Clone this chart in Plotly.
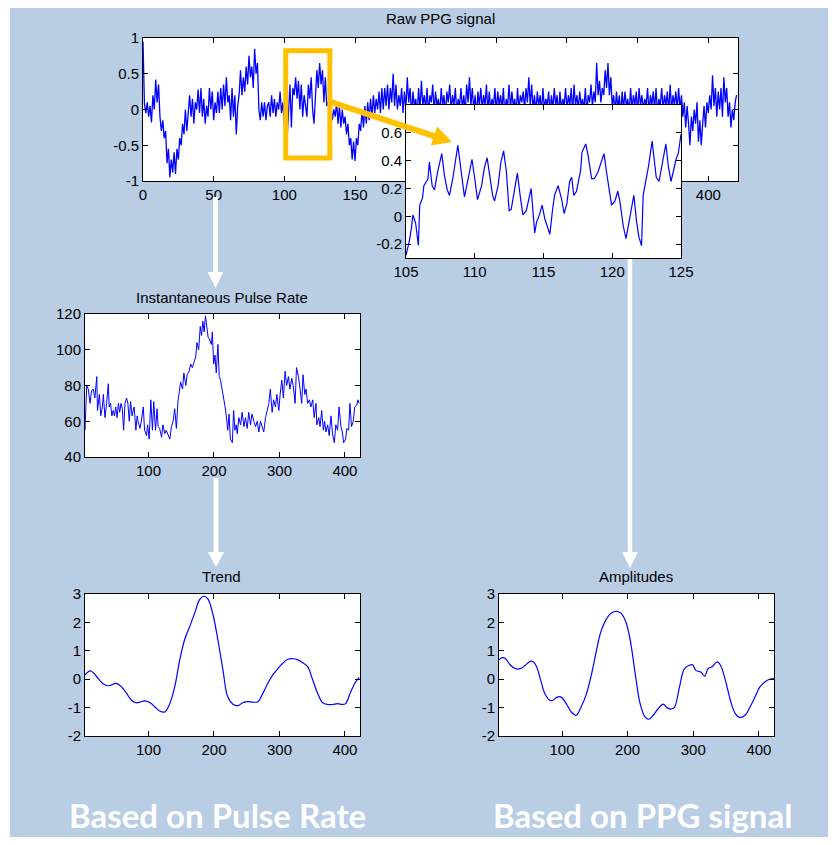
import plotly.graph_objects as go

# ---------------- data ----------------
ppg_raw = [
    0.95, 0.08, -0.05, 0.1, -0.1, 0.05, -0.18, 0.2, 0.0, 0.42,
    0.1, 0.35, -0.1, -0.3, -0.15, -0.4, -0.3, -0.75, -0.55, -0.95,
    -0.7, -0.88, -0.6, -0.9, -0.55, -0.7, -0.4, -0.5, -0.2, -0.35,
    0.0, -0.3, -0.05, 0.2, -0.1, 0.15, -0.2, 0.1, 0.0, 0.28,
    -0.05, 0.3, -0.1, 0.15, -0.2, 0.05, -0.1, 0.3, 0.0, 0.25,
    -0.15, 0.1, -0.05, 0.25, -0.05, 0.3, 0.0, 0.35, 0.05, 0.45,
    0.1, 0.2, -0.15, 0.3, -0.1, 0.2, -0.35, 0.05, 0.2, 0.55,
    0.2, 0.45, 0.25, 0.6, 0.35, 0.75, 0.45, 0.6, 0.3, 0.85,
    0.5, 0.65, 0.0, -0.15, 0.1, -0.1, 0.1, -0.15, 0.05, 0.1,
    -0.1, 0.2, -0.05, 0.15, -0.1, 0.1, 0.0, 0.25, -0.05, 0.1,
    -0.2, 0.1, -0.4, 0.0, 0.35, -0.25, 0.3, 0.2, 0.45, 0.15,
    0.4, 0.0, 0.35, -0.1, 0.2, 0.05, -0.1, 0.35, 0.15, 0.45,
    0.0, -0.2, 0.2, 0.55, 0.3, 0.65, 0.35, 0.55, 0.1, 0.45,
    0.05, 0.1, -0.1, 0.05, -0.15, 0.0, -0.1, 0.1, -0.2, 0.05,
    -0.25, 0.0, -0.2, -0.1, -0.35, -0.2, -0.5, -0.4, -0.7, -0.45,
    -0.72, -0.4, -0.5, -0.2, -0.3, 0.0, -0.25, 0.05, -0.2, 0.1,
    -0.15, 0.15, -0.1, 0.2, -0.05, 0.15, 0.0, 0.25, -0.05, 0.3,
    0.0, 0.3, 0.05, 0.35, 0.0, 0.3, 0.1, 0.5, 0.05, 0.35,
    0.0, 0.2, 0.05, 0.3, -0.05, 0.25, 0.0, 0.45, 0.1, 0.3,
    -0.1, 0.25, 0.05, 0.15, -0.1, 0.3, 0.0, 0.4, 0.05, 0.2,
    0.0, 0.3, -0.05, 0.2, 0.1, 0.35, -0.05, 0.25, 0.05, 0.15,
    -0.05, 0.3, 0.05, 0.2, -0.1, 0.25, 0.1, 0.35, 0.0, 0.2,
    0.05, 0.3, -0.05, 0.15, 0.05, 0.3, 0.0, 0.2, -0.05, 0.35,
    0.1, 0.45, 0.05, 0.3, 0.0, 0.2, -0.1, 0.25, 0.05, 0.3,
    0.0, 0.2, 0.05, 0.35, -0.05, 0.25, 0.0, 0.15, 0.05, 0.3,
    -0.05, 0.25, 0.05, 0.2, 0.0, 0.3, -0.1, 0.15, 0.05, 0.35,
    0.0, 0.25, 0.05, 0.15, -0.05, 0.3, 0.0, 0.2, 0.1, 0.25,
    0.0, 0.3, 0.1, 0.45, 0.05, 0.35, 0.0, 0.2, -0.05, 0.25,
    0.05, 0.2, -0.05, 0.3, 0.0, 0.15, 0.05, 0.25, -0.05, 0.2,
    0.0, 0.3, 0.05, 0.2, -0.1, 0.25, 0.0, 0.15, 0.05, 0.3,
    0.0, 0.2, 0.05, 0.3, -0.05, 0.35, 0.05, 0.2, 0.0, 0.25,
    0.05, 0.15, 0.0, 0.3, -0.05, 0.2, 0.1, 0.35, 0.05, 0.25,
    0.1, 0.65, 0.2, 0.4, 0.1, 0.3, 0.2, 0.55, 0.3, 0.65,
    0.2, 0.45, 0.05, 0.2, -0.05, 0.25, 0.0, 0.2, -0.1, 0.25,
    0.0, 0.25, 0.05, 0.15, -0.05, 0.3, 0.0, 0.2, 0.05, 0.25,
    -0.05, 0.3, 0.05, 0.2, 0.0, 0.15, 0.05, 0.3, -0.05, 0.2,
    0.05, 0.25, 0.0, 0.3, -0.05, 0.15, 0.05, 0.3, 0.0, 0.2,
    0.05, 0.25, -0.05, 0.35, 0.0, 0.2, 0.05, 0.25, 0.0, 0.3,
    0.0, 0.2, -0.1, 0.1, -0.25, 0.05, -0.2, -0.5, -0.1, -0.3,
    0.0, -0.2, 0.1, -0.45, -0.15, -0.5, -0.2, 0.05, -0.25, 0.1,
    -0.05, 0.2, 0.0, 0.48, 0.05, 0.3, -0.1, 0.25, 0.0, 0.3,
    -0.1, 0.45, 0.1, 0.3, -0.1, 0.1, -0.25, 0.0, -0.15, 0.1, 0.2,
]
ppg_t = list(range(len(ppg_raw)))

inset_t = [105.0, 105.24, 105.4, 105.5, 105.7, 105.85, 105.9, 106.0, 106.2, 106.3,
           106.6, 106.7, 106.9, 107.07, 107.3, 107.6, 107.8, 108.0, 108.16, 108.4,
           108.6, 108.77, 108.9, 109.1, 109.25, 109.5, 109.8, 110.0, 110.2, 110.5,
           110.7, 110.9, 111.1, 111.3, 111.44, 111.7, 111.9, 112.1, 112.3, 112.5,
           112.65, 112.9, 113.1, 113.3, 113.5, 113.75, 114.0, 114.1, 114.2, 114.36,
           114.5, 114.7, 114.9, 115.1, 115.3, 115.46, 115.65, 115.8, 116.06, 116.3,
           116.5, 116.7, 116.9, 117.05, 117.2, 117.4, 117.7, 117.8, 118.07, 118.24,
           118.5, 118.7, 118.97, 119.2, 119.4, 119.58, 119.8, 119.95, 120.2, 120.4,
           120.55, 120.8, 121.0, 121.15, 121.4, 121.57, 121.77, 121.94, 122.13, 122.25,
           122.45, 122.64, 122.9, 123.03, 123.2, 123.4, 123.66, 123.9, 124.08, 124.27,
           124.44, 124.64, 124.8, 125.0]
inset_v = [-0.28, -0.18, -0.08, 0.01, -0.05, -0.15, -0.21, 0.08, 0.13, 0.22,
           0.27, 0.39, 0.22, 0.19, 0.32, 0.45, 0.29, 0.19, 0.15, 0.27,
           0.39, 0.51, 0.41, 0.24, 0.14, 0.26, 0.41, 0.27, 0.12, 0.22,
           0.35, 0.42, 0.27, 0.15, 0.11, 0.22, 0.39, 0.47, 0.32, 0.04,
           0.05, 0.19, 0.31, 0.15, 0.01, 0.04, 0.15, 0.2, 0.08, -0.12,
           -0.04, 0.01, 0.08, -0.02, -0.08, -0.13, 0.04, 0.15, 0.22, 0.13,
           0.02, 0.09, 0.25, 0.28, 0.15, 0.18, 0.33, 0.46, 0.52, 0.44,
           0.27, 0.27, 0.32, 0.40, 0.45, 0.32, 0.18, 0.08, 0.11, 0.18,
           0.11, -0.07, -0.16, -0.08, 0.06, 0.15, -0.04, -0.15, -0.21, 0.15,
           0.26, 0.36, 0.54, 0.42, 0.28, 0.25, 0.39, 0.52, 0.36, 0.25,
           0.32, 0.41, 0.45, 0.59]

pr_t = [3, 5.6, 8, 10.7, 13, 15.7, 18, 21, 22, 25, 27, 29.5, 31, 33.5, 36, 38.6, 40, 42, 44, 46,
        48, 50, 52, 54, 56, 58, 60, 62, 64, 66.5, 68.5, 70.6, 72.6, 75, 76.6, 78, 80.7, 82.7, 84, 87,
        89, 92, 94, 97, 98.5, 101, 103.5, 106, 108, 110.7, 113, 114.7, 117, 120, 122, 124.9, 127, 130, 132.5, 135,
        137.6, 140, 142.6, 145, 146.7, 149, 152, 154, 157, 159, 162, 164.5, 167, 169.5, 172, 174, 176.6, 179, 181, 183,
        185, 187, 189, 191, 193, 196, 197.5, 199.5, 201.5, 203.5, 206, 208, 210, 212.7, 214.7, 217, 218.8, 221, 223, 225,
        228, 230, 232, 234, 235.5, 238, 240.6, 243, 245.7, 248, 250.8, 253, 255.8, 258, 261, 263.5, 266, 268.5, 271, 273.6,
        276, 278.7, 281, 283.8, 286, 288.8, 291, 293.9, 296, 299, 301, 303.6, 306, 308.6, 311, 313.7, 316, 318.8, 321, 323.9,
        326, 329, 331.5, 334, 336, 338.6, 340.6, 343, 345.7, 348, 350.8, 353, 355.8, 357, 360, 362, 364.5, 367, 369, 371,
        373.6, 376, 378.7, 381, 383.8, 386, 388.8, 391, 393.9, 396, 398, 401, 403, 405.6, 407.6, 410, 412.7, 415, 417.8, 420, 421.8]
pr_v = [55, 80, 78, 70, 77, 78, 73, 85, 66, 75, 63, 68, 75, 62, 70, 81, 68, 70, 63, 66,
        63, 68, 62, 70, 65, 70, 67, 55, 70, 73, 70, 60, 71, 63, 66, 68, 55, 63, 60, 56,
        60, 68, 55, 52, 58, 50, 72, 55, 71, 55, 67, 57, 56, 51, 58, 53, 55, 52, 50, 57,
        60, 67, 56, 71, 75, 82, 78, 87, 80, 86, 88, 92, 90, 93, 96, 104, 100, 113, 108, 116,
        110, 119, 112, 107, 106, 103, 110, 92, 97, 87, 103, 85, 83, 78, 73, 68, 63, 55, 64, 50,
        48, 66, 55, 58, 53, 62, 58, 65, 57, 62, 56, 65, 58, 64, 60, 57, 60, 54, 60, 57,
        54, 62, 66, 70, 78, 65, 72, 68, 75, 66, 75, 83, 73, 88, 80, 85, 78, 84, 80, 70,
        90, 85, 78, 70, 86, 75, 78, 70, 72, 68, 72, 62, 70, 58, 62, 57, 66, 55, 60, 54,
        58, 52, 63, 53, 48, 58, 55, 68, 57, 54, 48, 50, 56, 55, 70, 57, 60, 68, 69, 72, 70]

trend_t = [3, 10.7, 15.7, 23, 31, 38.6, 43.6, 51, 59, 66.5, 74, 80.7, 86.8, 94, 102, 109.6, 117, 125, 132.5, 140,
           147.7, 155, 163, 170.6, 178, 184.8, 190.9, 198.5, 206, 213.7, 221, 229, 236.5, 244, 251.8, 259.4, 267, 274.6, 282, 289.8,
           297.5, 305, 312.7, 320.3, 328, 335.5, 343, 350.8, 358.4, 366, 373.6, 381, 388.8, 396, 401, 408.9, 416.5, 421.8]
trend_v = [0.15, 0.29, 0.23, 0.03, -0.17, -0.23, -0.2, -0.15, -0.27, -0.5, -0.74, -0.83, -0.81, -0.76, -0.82, -0.97, -1.12, -1.15, -0.86, -0.27,
           0.68, 1.38, 1.86, 2.33, 2.8, 2.92, 2.82, 2.27, 1.38, 0.32, -0.62, -0.88, -0.93, -0.83, -0.79, -0.81, -0.79, -0.5, -0.15, 0.15,
           0.37, 0.56, 0.7, 0.72, 0.68, 0.58, 0.44, -0.03, -0.5, -0.83, -0.89, -0.89, -0.86, -0.89, -0.86, -0.44, -0.09, 0.06]

amp_t = [4, 9, 14, 21.5, 29, 36.5, 44, 51.5, 56.5, 61.5, 67.5, 74, 81.5, 86.5, 92.5, 99, 106.5, 114, 121.5, 129,
         136.5, 144, 151.5, 159, 166.5, 174, 181.5, 189, 196.5, 204, 211.5, 219, 226.5, 232.5, 239, 246.5, 254, 260.5, 266.5, 271.5,
         279, 286.5, 294, 299, 304, 311.5, 317.5, 322.5, 329, 336.5, 341.5, 349, 356.5, 364, 371.5, 379, 386.5, 394, 401.5, 409,
         416.5, 423]
amp_v = [0.68, 0.76, 0.72, 0.49, 0.37, 0.37, 0.49, 0.63, 0.61, 0.43, -0.04, -0.51, -0.74, -0.74, -0.63, -0.63, -0.86, -1.15, -1.27, -0.98,
         -0.57, 0.08, 0.9, 1.66, 2.07, 2.31, 2.39, 2.34, 2.07, 1.37, 0.2, -0.86, -1.33, -1.41, -1.27, -1.04, -0.88, -1.01, -1.05, -0.98,
         -0.27, 0.37, 0.49, 0.51, 0.31, 0.25, 0.11, 0.37, 0.45, 0.61, 0.49, -0.04, -0.74, -1.21, -1.35, -1.27, -0.98, -0.63, -0.27, -0.1,
         0.0, 0.02]

main_xticks = [0, 50, 100, 150, 200, 250, 300, 350, 400]
main_yticks = [-1, -0.5, 0, 0.5, 1]
main_ylabels = ["-1", "-0.5", "0", "0.5", "1"]
inset_xticks = [105, 110, 115, 120, 125]
inset_yticks = [-0.2, 0, 0.2, 0.4, 0.6]
inset_ylabels = ["-0.2", "0", "0.2", "0.4", "0.6"]
idx_xticks = [100, 200, 300, 400]
pr_yticks = [40, 60, 80, 100, 120]
sm_yticks = [-2, -1, 0, 1, 2, 3]
sm_ylabels = ["-2", "-1", "0", "1", "2", "3"]

titles = ["Raw PPG signal", "Instantaneous Pulse Rate", "Trend", "Amplitudes"]
bottom_labels = ["Based on Pulse Rate", "Based on PPG signal"]

# ---------------- layout helpers (page pixels -> paper) ----------------
# The page body keeps its default 8px margin, so the figure sits at (8, 8).
OFF = 8
W, H = 828, 829
BG = "#B9CDE5"
BLUE = "#0000FF"
GOLD = "#FFC000"
FONT = "Liberation Sans, Arial, sans-serif"


def fx(p):
    return (p - OFF) / W


def fy(p):
    return 1 - (p - OFF) / H


def axis(pix, rng, tickvals, ticktext, anchor, vertical=False):
    d0, d1 = pix
    dom = [fy(d1), fy(d0)] if vertical else [fx(d0), fx(d1)]
    return dict(domain=dom, range=rng, tickvals=tickvals, ticktext=ticktext,
                ticks="inside", ticklen=5, tickwidth=1, tickcolor="black",
                showline=True, linecolor="black", linewidth=1, mirror="ticks",
                showgrid=False, zeroline=False, anchor=anchor, fixedrange=True,
                automargin=False,
                tickfont=dict(family=FONT, size=15, color="black"))


fig = go.Figure()
fig.add_trace(go.Scatter(x=ppg_t, y=ppg_raw, mode="lines", line=dict(color=BLUE, width=1.3),
                         xaxis="x", yaxis="y", hoverinfo="skip"))
fig.add_trace(go.Scatter(x=inset_t, y=inset_v, mode="lines", line=dict(color=BLUE, width=1.2),
                         xaxis="x2", yaxis="y2", hoverinfo="skip"))
fig.add_trace(go.Scatter(x=pr_t, y=pr_v, mode="lines", line=dict(color=BLUE, width=1),
                         xaxis="x3", yaxis="y3", hoverinfo="skip"))
fig.add_trace(go.Scatter(x=trend_t, y=trend_v, mode="lines", line=dict(color=BLUE, width=1.2, shape="spline"),
                         xaxis="x4", yaxis="y4", hoverinfo="skip"))
fig.add_trace(go.Scatter(x=amp_t, y=amp_v, mode="lines", line=dict(color=BLUE, width=1.2, shape="spline"),
                         xaxis="x5", yaxis="y5", hoverinfo="skip"))

layout = dict(
    width=W, height=H, margin=dict(l=0, r=0, t=0, b=0, pad=0, autoexpand=False),
    paper_bgcolor=BG, plot_bgcolor="white", showlegend=False,
    xaxis=axis((143, 738), [0, 421], main_xticks, [str(v) for v in main_xticks], "y"),
    yaxis=axis((38, 181), [-1, 1], main_yticks, main_ylabels, "x", vertical=True),
    xaxis2=axis((406, 681), [105, 125], inset_xticks, [str(v) for v in inset_xticks], "y2"),
    yaxis2=axis((105, 258), [-0.3, 0.8], inset_yticks, inset_ylabels, "x2", vertical=True),
    xaxis3=axis((85, 360), [3, 423], idx_xticks, [str(v) for v in idx_xticks], "y3"),
    yaxis3=axis((314, 457), [40, 120], pr_yticks, [str(v) for v in pr_yticks], "x3", vertical=True),
    xaxis4=axis((85, 360), [3, 423], idx_xticks, [str(v) for v in idx_xticks], "y4"),
    yaxis4=axis((594, 736), [-2, 3], sm_yticks, sm_ylabels, "x4", vertical=True),
    xaxis5=axis((499, 774), [4, 423], idx_xticks, [str(v) for v in idx_xticks], "y5"),
    yaxis5=axis((594, 736), [-2, 3], sm_yticks, sm_ylabels, "x5", vertical=True),
)
fig.update_layout(**layout)

shapes = []
# thin white strip on the left edge of the slide
shapes.append(dict(type="rect", xref="paper", yref="paper", x0=0, x1=fx(10), y0=0, y1=1,
                   fillcolor="white", line=dict(width=0), layer="below"))
# gold zoom box on the main signal
shapes.append(dict(type="rect", xref="x", yref="y", x0=101, x1=132.2, y0=-0.68, y1=0.82,
                   line=dict(color=GOLD, width=5), layer="above"))


def arrow(x0, y0, x1, y1, color, width, head_len, head_w):
    dx, dy = x1 - x0, y1 - y0
    L = (dx * dx + dy * dy) ** 0.5
    ux, uy = dx / L, dy / L
    bx, by = x1 - ux * head_len, y1 - uy * head_len
    px_, py_ = -uy, ux
    out = [dict(type="line", xref="paper", yref="paper", x0=fx(x0), y0=fy(y0), x1=fx(bx + ux), y1=fy(by + uy),
                line=dict(color=color, width=width), layer="above")]
    pts = [(x1, y1), (bx + px_ * head_w / 2, by + py_ * head_w / 2), (bx - px_ * head_w / 2, by - py_ * head_w / 2)]
    path = "M " + " L ".join(f"{fx(a):.5f},{fy(b):.5f}" for a, b in pts) + " Z"
    out.append(dict(type="path", xref="paper", yref="paper", path=path, fillcolor=color,
                    line=dict(width=0), layer="above"))
    return out


shapes += arrow(331, 102, 452, 142, GOLD, 6, 19, 20)
shapes += arrow(215.5, 197, 215.5, 288, "white", 5, 16, 16)
shapes += arrow(216, 478, 216, 567, "white", 5, 15, 16)
shapes += arrow(630, 259, 630, 568, "white", 4.5, 16, 16)
fig.update_layout(shapes=shapes)

ann = []
for text, (x, y) in zip(titles, [(440, 19), (222, 298), (222, 576), (636, 576)]):
    ann.append(dict(text=text, x=fx(x), y=fy(y), xref="paper", yref="paper", showarrow=False,
                    xanchor="center", yanchor="middle", font=dict(family=FONT, size=15, color="black")))
for text, x in zip(bottom_labels, [217, 642]):
    ann.append(dict(text=text, x=fx(x), y=fy(815), xref="paper", yref="paper", showarrow=False,
                    xanchor="center", yanchor="middle",
                    font=dict(family="Lato, Open Sans, sans-serif", size=33, color="white", weight="bold")))
fig.update_layout(annotations=ann)

fig.write_html("out.html", config={"displayModeBar": False, "staticPlot": True})
